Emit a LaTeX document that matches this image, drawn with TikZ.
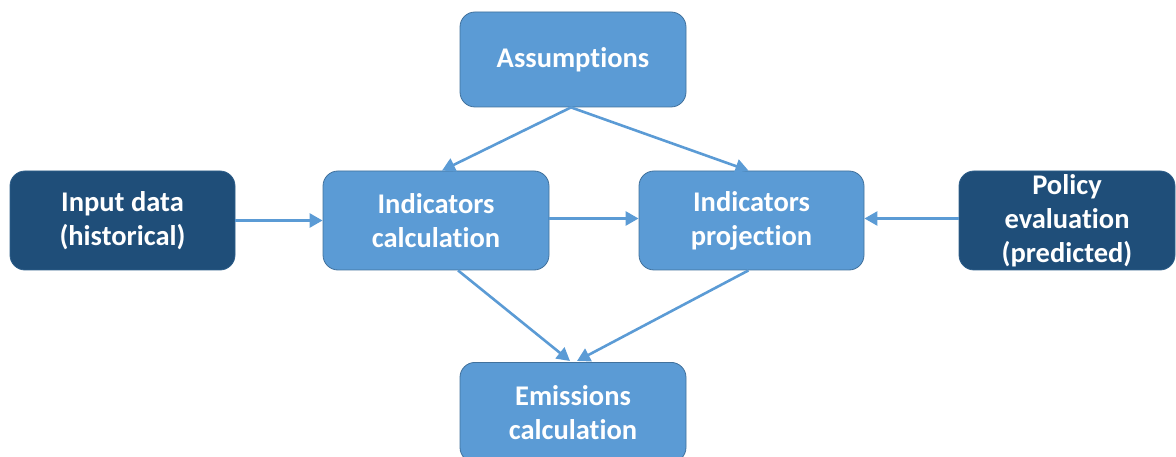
\documentclass[tikz,border=0pt]{standalone}
\usepackage{fontspec}
\setmainfont{Carlito}[Ligatures=NoCommon]
\usetikzlibrary{arrows.meta,calc}
\definecolor{lightbox}{HTML}{5B9BD5}
\definecolor{lightedge}{HTML}{41719C}
\definecolor{darkbox}{HTML}{1F4E79}
\definecolor{darkedge}{HTML}{2F5F8A}
\tikzset{
  boxbase/.style={rounded corners=15pt, align=center, text=white,
    font=\fontsize{28.5}{34}\selectfont\bfseries, inner sep=0pt, line width=0.8pt},
  lightnode/.style={boxbase, fill=lightbox, draw=lightedge},
  darknode/.style={boxbase, fill=darkbox, draw=darkedge},
  conn/.style={draw=lightbox, line width=2.6pt, -{Triangle[length=13pt,width=14pt]}}
}
\begin{document}
\begin{tikzpicture}[x=1pt,y=-1pt]
\useasboundingbox (0,0) rectangle (1176,457);
\node[lightnode, minimum width=226pt, minimum height=95pt] (assump) at (573,59.5) {Assumptions};
\node[darknode, minimum width=225pt, minimum height=99pt] (input) at (122.5,220.5) {Input data\\(historical)};
\node[lightnode, minimum width=226pt, minimum height=99pt] (calcn) at (436,220.5) {Indicators\\calculation};
\node[lightnode, minimum width=225pt, minimum height=99pt] (proj) at (751.5,220.5) {Indicators\\projection};
\node[darknode, minimum width=216pt, minimum height=99pt] (policy) at (1067,220.5) {Policy\\evaluation\\(predicted)};
\node[lightnode, minimum width=226pt, minimum height=100pt, anchor=north] (emis) at (573,362) {Emissions\\calculation};
\draw[conn] ($(assump.south)+(-2,0)$) -- ($(calcn.north)+(6,0)$);
\draw[conn] ($(assump.south)+(-2,0)$) -- ($(proj.north)+(-3,0)$);
\draw[conn] (input.east) -- (calcn.west);
\draw[conn] ($(calcn.east)+(0,-2)$) -- ($(proj.west)+(0,-2)$);
\draw[conn] ($(policy.west)+(0,-2)$) -- ($(proj.east)+(0,-2)$);
\draw[conn] ($(calcn.south)+(22,0)$) -- ($(emis.north)+(-3,-1)$);
\draw[conn] ($(proj.south)+(-3,0)$) -- ($(emis.north)+(4,-1)$);
\end{tikzpicture}
\end{document}
